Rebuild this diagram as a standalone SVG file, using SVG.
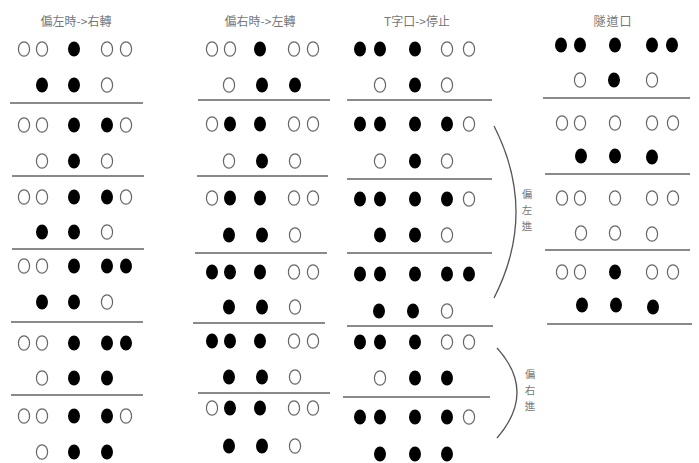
<svg xmlns="http://www.w3.org/2000/svg" width="699" height="463" viewBox="0 0 699 463">
<style>
.f{fill:#000}
.h{fill:#fff;stroke:#666;stroke-width:1.2}
.sep{stroke:#8a8a8a;stroke-width:1.8}
.t{font-family:"Noto Sans CJK TC","Noto Sans CJK SC",serif;font-size:12px;fill:#777;text-anchor:middle}
.v{font-family:"Noto Sans CJK TC","Noto Sans CJK SC",serif;font-size:10.5px;fill:#777;text-anchor:middle}
.br{fill:none;stroke:#555;stroke-width:1.3}
</style>
<defs>
<ellipse id="F" class="f" rx="6" ry="7.5"/>
<ellipse id="H" class="h" rx="5.6" ry="7.2"/>
</defs>
<rect width="699" height="463" fill="#fff"/>

<g id="col1">
<text class="t" x="76" y="26">偏左時-&gt;右轉</text>
<g id="c1b1"><use href="#H" x="24" y="49"/><use href="#H" x="42" y="49"/><use href="#F" x="74" y="49"/><use href="#H" x="107" y="49"/><use href="#H" x="126" y="49"/>
<use href="#F" x="42" y="85"/><use href="#F" x="74" y="85"/><use href="#H" x="107" y="85"/></g>
<g id="c1b2"><use href="#H" x="24" y="125"/><use href="#H" x="42" y="125"/><use href="#F" x="74" y="125"/><use href="#F" x="107" y="125"/><use href="#H" x="126" y="125"/>
<use href="#H" x="42" y="161"/><use href="#F" x="74" y="161"/><use href="#H" x="107" y="161"/></g>
<g id="c1b3"><use href="#H" x="24" y="197"/><use href="#H" x="42" y="197"/><use href="#F" x="74" y="197"/><use href="#F" x="107" y="197"/><use href="#H" x="126" y="197"/>
<use href="#F" x="42" y="232"/><use href="#F" x="74" y="232"/><use href="#H" x="107" y="232"/></g>
<g id="c1b4"><use href="#H" x="24" y="266"/><use href="#H" x="42" y="266"/><use href="#F" x="74" y="266"/><use href="#F" x="107" y="266"/><use href="#F" x="126" y="266"/>
<use href="#F" x="42" y="302"/><use href="#F" x="74" y="302"/><use href="#H" x="107" y="302"/></g>
<g id="c1b5"><use href="#H" x="24" y="343"/><use href="#H" x="42" y="343"/><use href="#F" x="74" y="343"/><use href="#F" x="107" y="343"/><use href="#F" x="126" y="343"/>
<use href="#H" x="42" y="378"/><use href="#F" x="74" y="378"/><use href="#F" x="107" y="378"/></g>
<g id="c1b6"><use href="#H" x="24" y="416"/><use href="#H" x="42" y="416"/><use href="#F" x="74" y="416"/><use href="#F" x="107" y="416"/><use href="#H" x="126" y="416"/>
<use href="#H" x="42" y="452"/><use href="#F" x="74" y="452"/><use href="#F" x="107" y="452"/></g>
<line class="sep" x1="10" y1="103" x2="143" y2="103"/>
<line class="sep" x1="12" y1="176" x2="144" y2="176"/>
<line class="sep" x1="12" y1="249" x2="144" y2="249"/>
<line class="sep" x1="11" y1="322" x2="143" y2="322"/>
<line class="sep" x1="11" y1="395" x2="143" y2="395"/>
</g>

<g id="col2">
<text class="t" x="260" y="26">偏右時-&gt;左轉</text>
<g id="c2b1"><use href="#H" x="212" y="49"/><use href="#H" x="230" y="49"/><use href="#F" x="260" y="49"/><use href="#H" x="294" y="49"/><use href="#H" x="313" y="49"/>
<use href="#H" x="229" y="85"/><use href="#F" x="262" y="85"/><use href="#F" x="295" y="85"/></g>
<g id="c2b2"><use href="#H" x="212" y="124"/><use href="#F" x="230" y="124"/><use href="#F" x="260" y="124"/><use href="#H" x="294" y="124"/><use href="#H" x="313" y="124"/>
<use href="#H" x="229" y="161"/><use href="#F" x="262" y="161"/><use href="#H" x="295" y="161"/></g>
<g id="c2b3"><use href="#H" x="212" y="198"/><use href="#F" x="230" y="198"/><use href="#F" x="260" y="198"/><use href="#H" x="294" y="198"/><use href="#H" x="313" y="198"/>
<use href="#F" x="229" y="235"/><use href="#F" x="262" y="235"/><use href="#H" x="295" y="235"/></g>
<g id="c2b4"><use href="#F" x="212" y="272"/><use href="#F" x="230" y="272"/><use href="#F" x="260" y="272"/><use href="#H" x="294" y="272"/><use href="#H" x="313" y="272"/>
<use href="#F" x="229" y="307"/><use href="#F" x="262" y="307"/><use href="#H" x="295" y="307"/></g>
<g id="c2b5"><use href="#F" x="212" y="341"/><use href="#F" x="230" y="341"/><use href="#F" x="260" y="341"/><use href="#H" x="294" y="341"/><use href="#H" x="313" y="341"/>
<use href="#F" x="229" y="377"/><use href="#F" x="262" y="377"/><use href="#H" x="295" y="377"/></g>
<g id="c2b6"><use href="#H" x="212" y="408"/><use href="#F" x="230" y="408"/><use href="#F" x="260" y="408"/><use href="#H" x="294" y="408"/><use href="#H" x="313" y="408"/>
<use href="#F" x="229" y="446"/><use href="#F" x="262" y="446"/><use href="#H" x="295" y="446"/></g>
<line class="sep" x1="198" y1="100" x2="330" y2="100"/>
<line class="sep" x1="197" y1="176" x2="328" y2="176"/>
<line class="sep" x1="195" y1="253" x2="327" y2="253"/>
<line class="sep" x1="193" y1="323" x2="325" y2="323"/>
<line class="sep" x1="198" y1="393" x2="330" y2="393"/>
</g>

<g id="col3">
<text class="t" x="417" y="26">T字口-&gt;停止</text>
<g id="c3b1"><use href="#F" x="360" y="49"/><use href="#F" x="380" y="49"/><use href="#F" x="415" y="49"/><use href="#H" x="447" y="49"/><use href="#H" x="469" y="49"/>
<use href="#H" x="380" y="85"/><use href="#F" x="415" y="85"/><use href="#H" x="447" y="85"/></g>
<g id="c3b2"><use href="#F" x="360" y="124"/><use href="#F" x="380" y="124"/><use href="#F" x="415" y="124"/><use href="#F" x="447" y="124"/><use href="#H" x="469" y="124"/>
<use href="#H" x="380" y="161"/><use href="#F" x="415" y="161"/><use href="#H" x="447" y="161"/></g>
<g id="c3b3"><use href="#F" x="360" y="199"/><use href="#F" x="380" y="199"/><use href="#F" x="415" y="199"/><use href="#F" x="447" y="199"/><use href="#H" x="469" y="199"/>
<use href="#F" x="380" y="235"/><use href="#F" x="415" y="235"/><use href="#H" x="447" y="235"/></g>
<g id="c3b4"><use href="#F" x="360" y="274"/><use href="#F" x="380" y="274"/><use href="#F" x="415" y="274"/><use href="#F" x="447" y="274"/><use href="#F" x="469" y="274"/>
<use href="#F" x="379" y="311"/><use href="#F" x="413" y="311"/><use href="#H" x="447" y="311"/></g>
<g id="c3b5"><use href="#F" x="360" y="342"/><use href="#F" x="380" y="342"/><use href="#F" x="415" y="342"/><use href="#H" x="447" y="342"/><use href="#H" x="469" y="342"/>
<use href="#H" x="380" y="378"/><use href="#F" x="415" y="378"/><use href="#F" x="447" y="378"/></g>
<g id="c3b6"><use href="#F" x="360" y="417"/><use href="#F" x="380" y="417"/><use href="#F" x="415" y="417"/><use href="#F" x="447" y="417"/><use href="#H" x="469" y="417"/>
<use href="#F" x="380" y="454"/><use href="#F" x="415" y="454"/><use href="#F" x="447" y="454"/></g>
<line class="sep" x1="347" y1="100" x2="492" y2="100"/>
<line class="sep" x1="347" y1="179" x2="492" y2="179"/>
<line class="sep" x1="347" y1="253" x2="492" y2="253"/>
<line class="sep" x1="347" y1="326" x2="493" y2="326"/>
<line class="sep" x1="343" y1="397" x2="490" y2="397"/>
</g>

<g id="col4">
<text class="t" x="613" y="26" style="letter-spacing:1px">隧道口</text>
<g id="c4b1"><use href="#F" x="561" y="45"/><use href="#F" x="580" y="45"/><use href="#F" x="615" y="45"/><use href="#F" x="652" y="45"/><use href="#F" x="672" y="45"/>
<use href="#H" x="580" y="80"/><use href="#F" x="614" y="80"/><use href="#H" x="652" y="80"/></g>
<g id="c4b2"><use href="#H" x="562" y="123"/><use href="#H" x="580" y="123"/><use href="#H" x="615" y="123"/><use href="#H" x="652" y="123"/><use href="#H" x="673" y="123"/>
<use href="#F" x="581" y="156"/><use href="#F" x="615" y="156"/><use href="#F" x="652" y="157"/></g>
<g id="c4b3"><use href="#H" x="562" y="198"/><use href="#H" x="580" y="198"/><use href="#H" x="615" y="198"/><use href="#H" x="652" y="198"/><use href="#H" x="673" y="198"/>
<use href="#H" x="581" y="233"/><use href="#H" x="615" y="233"/><use href="#H" x="652" y="234"/></g>
<g id="c4b4"><use href="#H" x="562" y="272"/><use href="#H" x="580" y="272"/><use href="#F" x="615" y="272"/><use href="#H" x="652" y="272"/><use href="#H" x="673" y="272"/>
<use href="#F" x="582" y="305"/><use href="#F" x="616" y="305"/><use href="#F" x="653" y="307"/></g>
<line class="sep" x1="543" y1="98" x2="690" y2="98"/>
<line class="sep" x1="545" y1="174" x2="690" y2="174"/>
<line class="sep" x1="545" y1="250" x2="690" y2="250"/>
<line class="sep" x1="547" y1="324" x2="692" y2="324"/>
</g>

<g id="brackets">
<path class="br" d="M494,126 Q538,212 494,298"/>
<text class="v"><tspan x="527" y="198">偏</tspan><tspan x="527" y="214">左</tspan><tspan x="527" y="230">進</tspan></text>
<path class="br" d="M497,348 Q537,392 497,438"/>
<text class="v"><tspan x="530" y="378">偏</tspan><tspan x="530" y="394">右</tspan><tspan x="530" y="410">進</tspan></text>
</g>
</svg>
